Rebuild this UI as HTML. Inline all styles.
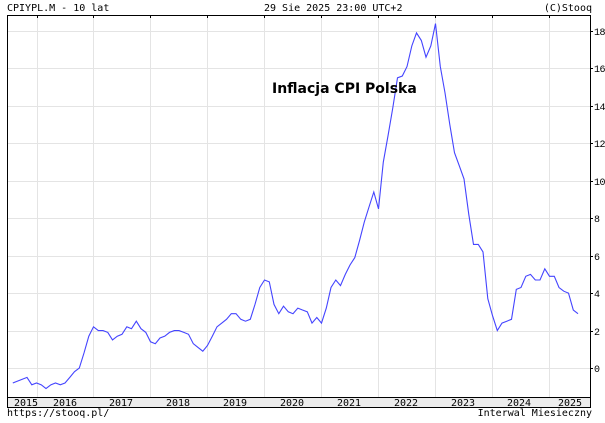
<!DOCTYPE html><html><head><style>body{margin:0;background:#fff}svg{display:block}text{font-family:"DejaVu Sans Mono","Liberation Mono",monospace;font-size:10px;fill:#000}</style></head><body>
<svg width="605" height="423" xmlns="http://www.w3.org/2000/svg">
<g id="grid" stroke="#e4e4e4" stroke-width="1"></g>
<g id="frame"></g>
<polyline id="ln" fill="none" stroke="#4444ff" stroke-width="1.1"/>
<text x="7" y="11">CPIYPL.M - 10 lat</text>
<text x="264" y="11">29 Sie 2025 23:00 UTC+2</text>
<text x="592" y="11" text-anchor="end">(C)Stooq</text>
<text x="7" y="416">https://stooq.pl/</text>
<text x="592" y="416" text-anchor="end">Interwal Miesieczny</text>
<text x="272" y="93" style="font-family:'DejaVu Sans','Liberation Sans',sans-serif;font-weight:bold;font-size:14px">Inflacja CPI Polska</text>
<g id="lab"></g>
</svg>
<script>
var NS="http://www.w3.org/2000/svg";
function el(p,t,a,tx){var e=document.createElementNS(NS,t);for(var k in a)e.setAttribute(k,a[k]);if(tx!=null)e.textContent=tx;document.getElementById(p).appendChild(e);return e;}
function Y(v){return 368-v*18.72;}
var L=7,R=590,T=15,B=397;
for(var v=0;v<=18;v+=2){var y=Math.round(Y(v))+.5;el('grid','line',{x1:L,x2:R,y1:y,y2:y});el('frame','line',{x1:R,x2:R+3,y1:y,y2:y,stroke:'#000'});el('lab','text',{x:R+4,y:y+3.5,'font-size':'9','style':'font-family:"Liberation Mono",monospace;letter-spacing:-0.5px'},v);}
var gx=[37,93,150,207,264,321,378,435,492,549];
gx.forEach(function(x){el('grid','line',{x1:x+.5,x2:x+.5,y1:T,y2:B});el('frame','line',{x1:x+.5,x2:x+.5,y1:B,y2:B+3,stroke:'#000'});el('frame','line',{x1:x+.5,x2:x+.5,y1:T,y2:T+3,stroke:'#000'});});
el('frame','rect',{x:L+.5,y:B+.5,width:R-L,height:10,fill:'#ececec',stroke:'#000'});
el('frame','rect',{x:L+.5,y:T+.5,width:R-L,height:B-T,fill:'none',stroke:'#000'});
var yl=[[26,2015],[65,2016],[121,2017],[178,2018],[235,2019],[292,2020],[349,2021],[406,2022],[463,2023],[519,2024],[570,2025]];
yl.forEach(function(a){el('lab','text',{x:a[0],y:406,'text-anchor':'middle','font-size':'9'},a[1]);});
var d=[-0.8,-0.7,-0.6,-0.5,-0.9,-0.8,-0.9,-1.1,-0.9,-0.8,-0.9,-0.8,-0.5,-0.2,0.0,0.8,
1.7,2.2,2.0,2.0,1.9,1.5,1.7,1.8,2.2,2.1,2.5,2.1,
1.9,1.4,1.3,1.6,1.7,1.9,2.0,2.0,1.9,1.8,1.3,1.1,
0.9,1.2,1.7,2.2,2.4,2.6,2.9,2.9,2.6,2.5,2.6,3.4,
4.3,4.7,4.6,3.4,2.9,3.3,3.0,2.9,3.2,3.1,3.0,2.4,
2.7,2.4,3.2,4.3,4.7,4.4,5.0,5.5,5.9,6.8,7.8,8.6,
9.4,8.5,11.0,12.4,13.9,15.5,15.6,16.1,17.2,17.9,17.5,16.6,
17.2,18.4,16.1,14.7,13.0,11.5,10.8,10.1,8.2,6.6,6.6,6.2,
3.7,2.8,2.0,2.4,2.5,2.6,4.2,4.3,4.9,5.0,4.7,4.7,
5.3,4.9,4.9,4.3,4.1,4.0,3.1,2.9];
var n=d.length,pts=[];for(var i=0;i<n;i++){pts.push((578-(n-1-i)*4.75).toFixed(1)+","+Y(d[i]).toFixed(1));}
document.getElementById('ln').setAttribute('points',pts.join(' '));
</script>
</body></html>
